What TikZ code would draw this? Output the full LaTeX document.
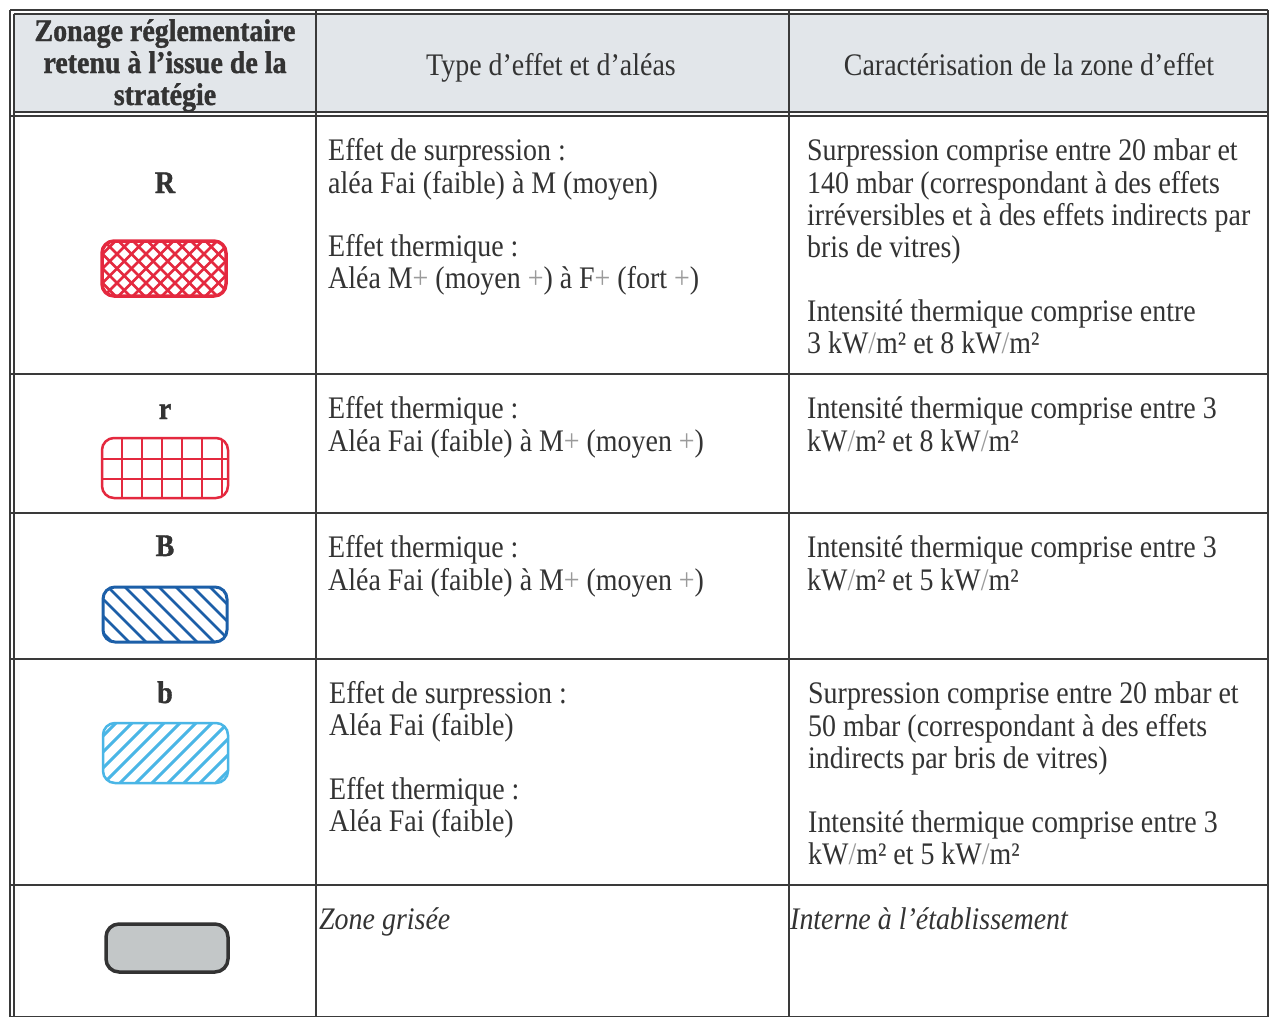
\documentclass[tikz,border=0pt]{standalone}
\usepackage{fontspec}
\setmainfont{Liberation Serif}[FakeStretch=0.89, BoldFeatures={FakeBold=1.2}]
\definecolor{textc}{HTML}{333333}
\definecolor{linec}{HTML}{3A3A3A}
\definecolor{headc}{HTML}{E2E6EA}
\definecolor{redc}{HTML}{E4293F}
\definecolor{blued}{HTML}{1C5FA8}
\definecolor{bluel}{HTML}{4AB6E6}
\definecolor{greyf}{HTML}{C3C7C8}
\definecolor{plusc}{HTML}{9A9A9A}
\newcommand{\myplus}{\textcolor{plusc}{+}}
\newcommand{\myslash}{\textcolor{plusc}{/}}
\begin{document}
\begin{tikzpicture}[x=1bp,y=-1bp,
  txt/.style={anchor=base west, inner sep=0pt, text=textc, font=\fontsize{31.5}{32}\selectfont},
  ctxt/.style={txt, anchor=base},
  btxt/.style={ctxt, font=\fontsize{31.5}{32}\selectfont\bfseries},
  itxt/.style={txt, font=\fontsize{31.5}{32}\selectfont\itshape},
  rule/.style={draw=linec, line width=2bp},
  swborder/.style={line width=2.5bp, rounded corners=12bp}]
\useasboundingbox (0,0) rectangle (1271,1017);
\fill[white] (0,0) rectangle (1271,1017);
% header fill
\fill[headc] (13.5,13.5) rectangle (1268,112);
% table rules
\draw[rule] (10,10) -- (1268,10);
\draw[rule] (13.5,13.5) -- (1268,13.5);
\draw[rule] (10,10) -- (10,1017);
\draw[rule] (13.5,13.5) -- (13.5,1017);
\draw[rule] (1268,10) -- (1268,1017);
\draw[rule] (13.5,112) -- (1268,112);
\draw[rule] (10,116) -- (1268,116);
\draw[rule] (316,10) -- (316,1017);
\draw[rule] (789,10) -- (789,1017);
\draw[rule] (10,374) -- (1268,374);
\draw[rule] (10,513) -- (1268,513);
\draw[rule] (10,659) -- (1268,659);
\draw[rule] (10,885) -- (1268,885);
\draw[draw=linec, line width=1bp] (10,1016) -- (1268,1016);

% header texts
\node[btxt] (h1a) at (165,41) {Zonage réglementaire};
\node[btxt] (h1b) at (165,73) {retenu à l’issue de la};
\node[btxt] (h1c) at (165,105) {stratégie};
\node[ctxt] (h2) at (551,75) {Type d’effet et d’aléas};
\node[ctxt] (h3) at (1029,75) {Caractérisation de la zone d’effet};

% row R
\node[btxt] (lR) at (165,193) {R};
\begin{scope}
  \clip[rounded corners=12bp] (102,241) rectangle (226,296);
  \foreach \k in {-70,-55.5,...,240} {
    \draw[redc, line width=2.6bp] (\k,296) -- ++(55,-55);
    \draw[redc, line width=2.6bp] (\k,241) -- ++(55,55);
  }
\end{scope}
\draw[redc, swborder, line width=3.5bp] (102,241) rectangle (226,296);
\node[txt] (R2a) at (328,160) {Effet de surpression :};
\node[txt] (R2b) at (328,193) {aléa Fai (faible) à M (moyen)};
\node[txt] (R2c) at (328,256) {Effet thermique :};
\node[txt] (R2d) at (328,288) {Aléa M\myplus{} (moyen \myplus) à F\myplus{} (fort \myplus)};
\node[txt] (R3a) at (807,160) {Surpression comprise entre 20 mbar et};
\node[txt] (R3b) at (807,193) {140 mbar (correspondant à des effets};
\node[txt] (R3c) at (807,225) {irréversibles et à des effets indirects par};
\node[txt] (R3d) at (807,257) {bris de vitres)};
\node[txt] (R3e) at (807,321) {Intensité thermique comprise entre};
\node[txt] (R3f) at (807,353) {3 kW\myslash m² et 8 kW\myslash m²};

% row r
\node[btxt] (lr) at (165,419) {r};
\begin{scope}
  \clip[rounded corners=12bp] (102,438) rectangle (228,498);
  \foreach \k in {122,142,...,222} {
    \draw[redc, line width=1.6bp] (\k,438) -- (\k,498);
  }
  \foreach \k in {459,479} {
    \draw[redc, line width=1.6bp] (102,\k) -- (228,\k);
  }
\end{scope}
\draw[redc, swborder] (102,438) rectangle (228,498);
\node[txt] (r2a) at (328,418) {Effet thermique :};
\node[txt] (r2b) at (328,451) {Aléa Fai (faible) à M\myplus{} (moyen \myplus)};
\node[txt] (r3a) at (807,418) {Intensité thermique comprise entre 3};
\node[txt] (r3b) at (807,451) {kW\myslash m² et 8 kW\myslash m²};

% row B
\node[btxt] (lB) at (165,556) {B};
\begin{scope}
  \clip[rounded corners=12bp] (103,587) rectangle (227,642);
  \foreach \k in {40,57,...,240} {
    \draw[blued, line width=2.5bp] (\k,587) -- ++(55,55);
  }
\end{scope}
\draw[blued, swborder, line width=3bp] (103,587) rectangle (227,642);
\node[txt] (B2a) at (328,557) {Effet thermique :};
\node[txt] (B2b) at (328,590) {Aléa Fai (faible) à M\myplus{} (moyen \myplus)};
\node[txt] (B3a) at (807,557) {Intensité thermique comprise entre 3};
\node[txt] (B3b) at (807,590) {kW\myslash m² et 5 kW\myslash m²};

% row b
\node[btxt] (lb) at (165,703) {b};
\begin{scope}
  \clip[rounded corners=12bp] (103,723) rectangle (228,783);
  \foreach \k in {40,56,...,240} {
    \draw[bluel, line width=3bp] (\k,783) -- ++(60,-60);
  }
\end{scope}
\draw[bluel, swborder] (103,723) rectangle (228,783);
\node[txt] (b2a) at (329,703) {Effet de surpression :};
\node[txt] (b2b) at (329,735) {Aléa Fai (faible)};
\node[txt] (b2c) at (329,799) {Effet thermique :};
\node[txt] (b2d) at (329,831) {Aléa Fai (faible)};
\node[txt] (b3a) at (808,703) {Surpression comprise entre 20 mbar et};
\node[txt] (b3b) at (808,736) {50 mbar (correspondant à des effets};
\node[txt] (b3c) at (808,768) {indirects par bris de vitres)};
\node[txt] (b3d) at (808,832) {Intensité thermique comprise entre 3};
\node[txt] (b3e) at (808,864) {kW\myslash m² et 5 kW\myslash m²};

% grey row
\draw[fill=greyf, draw=textc, line width=3.5bp, rounded corners=13bp] (106,924) rectangle (228,972);
\node[itxt] (g2) at (319,929) {Zone grisée};
\node[itxt] (g3) at (790,929) {Interne à l’établissement};
\end{tikzpicture}
\end{document}
